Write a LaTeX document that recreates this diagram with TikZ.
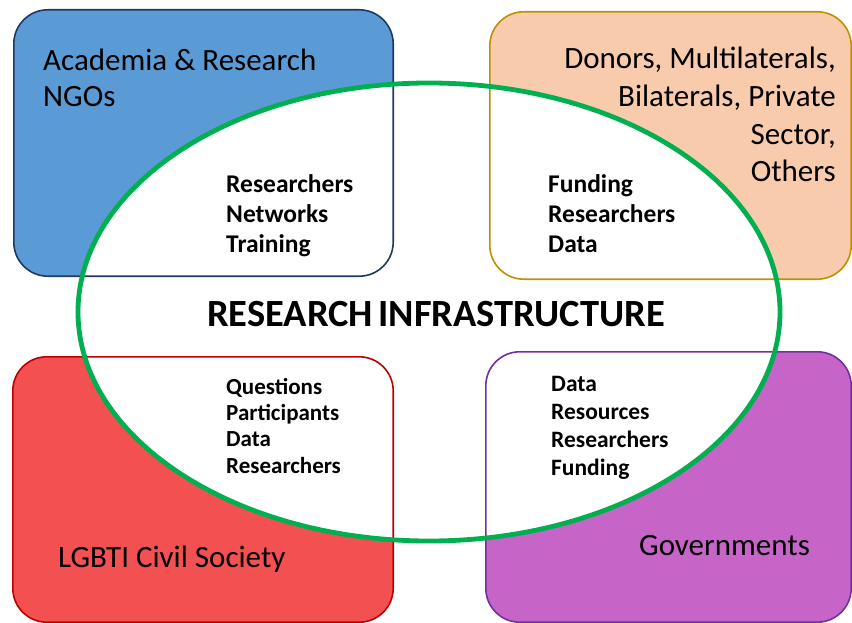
\documentclass[tikz,border=0pt]{standalone}
\usepackage{fontspec}
\setmainfont{Carlito}
\usetikzlibrary{positioning, shapes.geometric}
\definecolor{AcadFill}{HTML}{5B9BD5}
\definecolor{AcadLine}{HTML}{1F3864}
\definecolor{DonorFill}{HTML}{F8CBAD}
\definecolor{DonorLine}{HTML}{BF9000}
\definecolor{CivilFill}{HTML}{F35151}
\definecolor{CivilLine}{HTML}{C00000}
\definecolor{GovFill}{HTML}{C664C8}
\definecolor{GovLine}{HTML}{7030A0}
\definecolor{InfraRing}{HTML}{00B050}

\begin{document}
\begin{tikzpicture}[
    x=1pt, y=-1pt,
    sector/.style={
      rectangle,
      rounded corners=34pt,
      inner sep=0pt,
      draw=none,
    },
    edge/.style={
      rounded corners=34pt,
      line width=1.6pt,
    },
    ring/.style={
      ellipse,
      inner sep=0pt,
      minimum width=702pt,
      minimum height=458pt,
    },
    actor/.style={
      inner sep=0pt,
      font=\fontsize{31}{36}\selectfont,
    },
    offer/.style={
      inner sep=0pt,
      align=left,
      anchor=base west,
      font=\bfseries\fontsize{25.5}{30}\selectfont,
    },
  ]
    \useasboundingbox (0,0) rectangle (852,623);
    \begin{scope}
    \clip (0,0) rectangle (852,623);
    % the four groups
    \node[sector, fill=AcadFill, minimum width=379pt, minimum height=266pt] (acad) at (203.5,143) {};
    \node[sector, fill=DonorFill, minimum width=361pt, minimum height=267pt] (donor) at (670.5,145.5) {};
    \node[sector, fill=CivilFill, minimum width=380pt, minimum height=265pt] (civil) at (203,489.5) {};
    \node[sector, fill=GovFill, minimum width=365pt, minimum height=270pt] (gov) at (668.5,487) {};

    % shared space in the middle
    \node[ring, fill=white] (infra) at (429,312) {};

    \draw[edge, AcadLine] (acad.south west) rectangle (acad.north east);
    \draw[edge, DonorLine] (donor.south west) rectangle (donor.north east);
    \draw[edge, CivilLine] (civil.south west) rectangle (civil.north east);
    \draw[edge, GovLine] (gov.south west) rectangle (gov.north east);

    \draw[InfraRing, line width=4.8pt] (infra.center) ellipse (351pt and 229pt);
    \end{scope}

    % group names (base = last line)
    \node[actor, align=left, anchor=base west] (acadname) at (43,107) {Academia \& Research\\NGOs};
    \node[actor, align=right, anchor=base east, font=\fontsize{31}{37.7}\selectfont] (donorname) at (836,182) {Donors, Multilaterals,\\Bilaterals, Private\\Sector,\\Others};
    \node[actor, anchor=base west] (civilname) at (58,567) {LGBTI Civil Society};
    \node[actor, anchor=base west] (govname) at (639,555) {Governments};

    \node[inner sep=0pt, anchor=base, font=\bfseries\fontsize{38.5}{44}\selectfont] (title) at (436,326) {RESEARCH\hspace{0.14em}INFRASTRUCTURE};

    % what each group brings in
    \node[offer] (acadgives) at (226,252) {Researchers\\Networks\\Training};
    \node[offer] (donorgives) at (548,252) {Funding\\Researchers\\Data};
    \node[offer, font=\bfseries\fontsize{23}{26.3}\selectfont] (civilgives) at (226,473) {Questions\\Participants\\Data\\Researchers};
    \node[offer, font=\bfseries\fontsize{23.5}{28}\selectfont] (govgives) at (551,475) {Data\\Resources\\Researchers\\Funding};
  \end{tikzpicture}
\end{document}
